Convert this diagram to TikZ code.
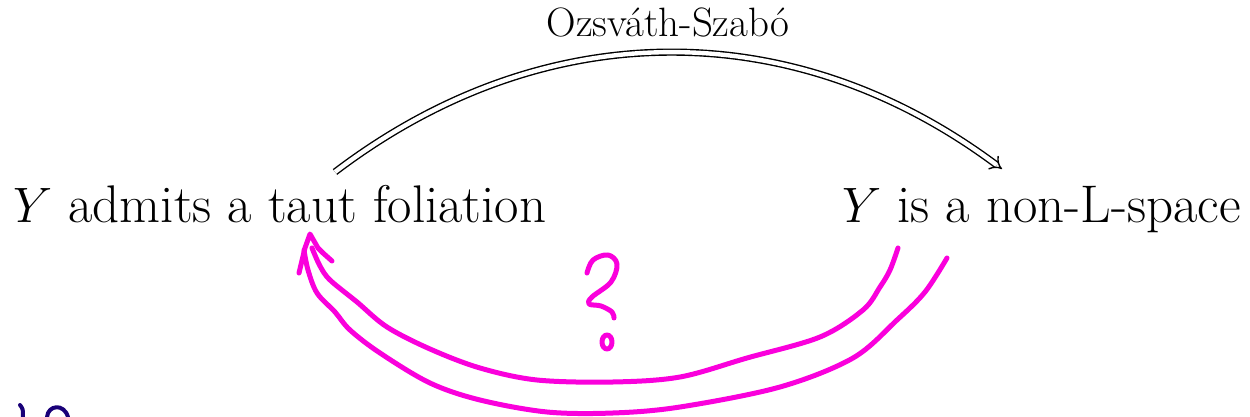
\documentclass[tikz,border=0pt]{standalone}
\usepackage{fontspec}
\usetikzlibrary{arrows.meta}
\definecolor{pen}{RGB}{250,0,220}
\definecolor{navy}{RGB}{25,0,120}
\begin{document}
\begin{tikzpicture}[x=0.5pt,y=-0.5pt,
  stmt/.style={anchor=base west,inner sep=0pt,font=\fontsize{26.5}{31}\selectfont},
  lbl/.style={anchor=base,inner sep=0pt,font=\fontsize{20.5}{24}\selectfont},
  implies/.style={double,double distance=2.2pt,line width=0.7pt,-{Implies}},
  ink/.style={pen,line width=2.5pt,line cap=round,line join=round},
  navyink/.style={navy,line width=2pt,line cap=round,line join=round}]
\useasboundingbox (0,0) rectangle (1250,417);
\node[stmt] (taut) at (13,223) {$Y$ admits a taut foliation};
\node[stmt] (nonL) at (842,223) {$Y$ is a non-L-space};
\coordinate (os1) at (335,172);
\coordinate (os2) at (1002,169);
\draw[implies] (os1) to[bend left=37] node[lbl,pos=0.5,yshift=8pt] (oslbl) {Ozsváth-Szabó} (os2);
% hand-drawn question arrow
\draw[ink] plot[smooth,tension=0.55] coordinates {(898,248) (890,270) (880,287) (863,310) (820,337) (747,358) (680,377) (613,382) (537,380) (480,368) (430,349) (387,327) (357,302) (330,280) (320,266) (312,248)};
\draw[ink] plot[smooth,tension=0.55] coordinates {(947,258) (925,292) (897,320) (853,358) (780,387) (680,407) (613,413) (547,412) (480,400) (430,383) (380,353) (350,330) (335,312) (317,293) (308,270) (304,250)};
\draw[ink] (299,273) -- (305,248) -- (310,234) -- (318,248) -- (323,253) -- (332,261);
\draw[ink] plot[smooth,tension=0.6] coordinates {(587,273) (593,260) (608,255) (617,264) (611,282) (592,297) (589,304) (601,306) (612,312) (614,318)};
\draw[ink] (607,342) ellipse (5 and 7);
% navy marks at the lower edge
\draw[navyink] (20,405) .. controls (23,409) .. (23,417);
\draw[navyink] (47,417) .. controls (48,405) and (64,403) .. (68,417);
\end{tikzpicture}
\end{document}
